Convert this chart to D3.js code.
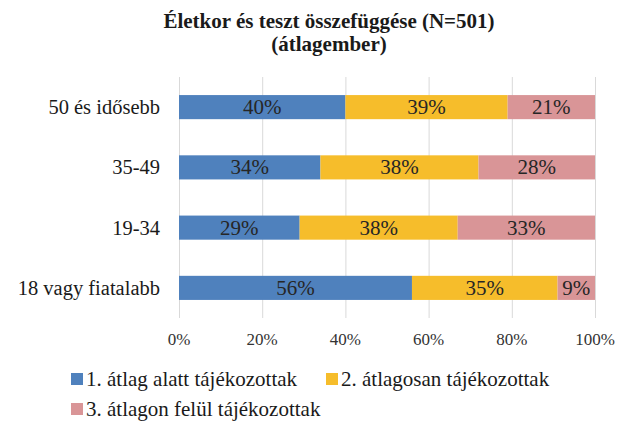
<!DOCTYPE html>
<meta charset="utf-8">
<title>Életkor és teszt</title>
<style>
body { margin: 0; background: #fff; }
.grid line { stroke: #d9d9d9; }
</style>
<svg width="629" height="421" font-family="'Liberation Serif', Tinos, 'Times New Roman', 'DejaVu Serif', serif"></svg>
<script src="https://cdn.jsdelivr.net/npm/d3@7"></script>
<script>

var categories = ["50 és idősebb", "35-49", "19-34", "18 vagy fiatalabb"];
var seriesNames = ["1. átlag alatt tájékozottak", "2. átlagosan tájékozottak", "3. átlagon felül tájékozottak"];
var below = [40, 34, 29, 56];
var average = [39, 38, 38, 35];
var above = [21, 28, 33, 9];
var ticks = [0, 20, 40, 60, 80, 100];
var colors = ["#4f81bd", "#f6bd2b", "#d99597"];

var svg = d3.select("svg");
var x = d3.scaleLinear().domain([0, 100]).range([179, 595]);
var y = d3.scaleBand().domain(categories).range([77, 318]).paddingInner(0.6).paddingOuter(0.3);

// title
svg.append("text").attr("x", 329).attr("y", 28).attr("text-anchor", "middle")
  .style("font-size", "21px").style("font-weight", "bold").attr("fill", "#1a1a1a")
  .text("Életkor és teszt összefüggése (N=501)");
svg.append("text").attr("x", 329).attr("y", 51).attr("text-anchor", "middle")
  .style("font-size", "21px").style("font-weight", "bold").attr("fill", "#1a1a1a")
  .text("(átlagember)");

// grid
svg.append("g").attr("class", "grid").selectAll("line")
  .data(ticks).enter().append("line")
  .attr("x1", function(d) { return x(d) + 0.5; })
  .attr("x2", function(d) { return x(d) + 0.5; })
  .attr("y1", 77).attr("y2", 318);

// tick labels
svg.append("g").selectAll("text")
  .data(ticks).enter().append("text")
  .attr("x", function(d) { return x(d); })
  .attr("y", 345)
  .attr("text-anchor", "middle")
  .style("font-size", "17px").attr("fill", "#333")
  .text(function(d) { return d + "%"; });

// stacked data
var rows = categories.map(function(c, i) {
  return { cat: c, s0: below[i], s1: average[i], s2: above[i] };
});
var stack = d3.stack().keys(["s0", "s1", "s2"])(rows);

var layer = svg.append("g").selectAll("g")
  .data(stack).enter().append("g")
  .attr("fill", function(d, i) { return colors[i]; });

layer.selectAll("rect")
  .data(function(d) { return d; })
  .enter().append("rect")
  .attr("x", function(d) { return x(d[0]); })
  .attr("width", function(d) { return x(d[1]) - x(d[0]); })
  .attr("y", function(d) { return y(d.data.cat); })
  .attr("height", y.bandwidth());

layer.selectAll("text")
  .data(function(d) { return d; })
  .enter().append("text")
  .attr("x", function(d) { return (x(d[0]) + x(d[1])) / 2; })
  .attr("y", function(d) { return y(d.data.cat) + y.bandwidth() / 2 + 7; })
  .attr("text-anchor", "middle")
  .style("font-size", "21px").attr("fill", "#262626")
  .text(function(d) { return (d[1] - d[0]) + "%"; });

// category labels
svg.append("g").selectAll("text")
  .data(categories).enter().append("text")
  .attr("x", 160)
  .attr("y", function(d) { return y(d) + y.bandwidth() / 2 + 7; })
  .attr("text-anchor", "end")
  .style("font-size", "20.5px").attr("fill", "#1a1a1a")
  .text(function(d) { return d; });

// legend
var legendPos = [[71, 379], [326, 379], [71, 409]];
var legend = svg.append("g").selectAll("g")
  .data(seriesNames).enter().append("g")
  .attr("transform", function(d, i) { return "translate(" + legendPos[i][0] + "," + legendPos[i][1] + ")"; });
legend.append("rect")
  .attr("x", 0).attr("y", -6).attr("width", 12).attr("height", 12)
  .attr("fill", function(d, i) { return colors[i]; });
legend.append("text")
  .attr("x", 15).attr("y", 7)
  .style("font-size", "21px").attr("fill", "#1a1a1a")
  .text(function(d) { return d; });

</script>
